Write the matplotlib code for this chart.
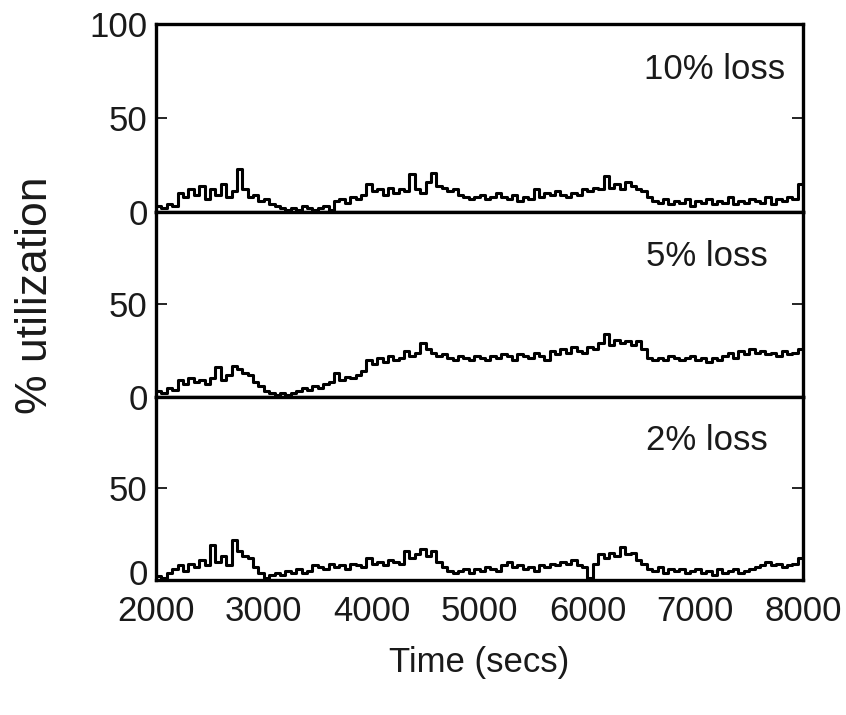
import numpy as np
import matplotlib
matplotlib.use("Agg")
import matplotlib.pyplot as plt
import matplotlib.transforms as mtransforms

plt.rcParams['font.family'] = ['Liberation Sans', 'DejaVu Sans']

# sample times (secs), one reading every 50 s
time = np.arange(2000, 8001, 50)

# % utilization
loss10 = [3, 2, 4, 3, 10, 8, 12, 9, 14, 7,
          12, 9, 15, 8, 11, 23, 12, 8, 9, 6,
          7, 4, 3, 2, 1, 2, 1, 3, 2, 1,
          2, 3, 1, 6, 7, 5, 8, 7, 9, 15,
          11, 12, 9, 13, 10, 12, 11, 20, 12, 10,
          16, 21, 14, 13, 11, 12, 9, 8, 7, 8,
          9, 7, 8, 10, 8, 7, 9, 6, 8, 7,
          12, 8, 10, 9, 11, 9, 8, 10, 9, 12,
          11, 13, 12, 19, 13, 15, 12, 16, 14, 12,
          11, 8, 6, 5, 7, 4, 6, 5, 7, 3,
          6, 5, 7, 4, 6, 5, 8, 4, 6, 5,
          7, 6, 5, 8, 4, 7, 6, 8, 7, 15,
          9]
loss5 = [3, 2, 5, 4, 9, 7, 10, 8, 9, 7,
         10, 16, 9, 12, 17, 15, 13, 12, 8, 6,
         3, 2, 1, 2, 1, 2, 3, 5, 4, 6,
         5, 7, 8, 13, 9, 11, 10, 12, 14, 20,
         18, 21, 19, 22, 20, 21, 25, 22, 24, 29,
         26, 24, 22, 23, 21, 20, 22, 21, 20, 22,
         21, 20, 22, 21, 23, 22, 20, 23, 22, 21,
         24, 22, 20, 25, 23, 26, 24, 27, 25, 24,
         27, 26, 29, 34, 28, 31, 29, 30, 28, 30,
         26, 21, 20, 21, 20, 22, 21, 20, 21, 22,
         20, 21, 19, 21, 20, 22, 24, 21, 25, 23,
         26, 24, 25, 23, 24, 22, 25, 23, 24, 26,
         25]
loss2 = [2, 1, 4, 6, 8, 5, 9, 7, 11, 8,
         19, 10, 13, 8, 22, 16, 13, 12, 7, 4,
         1, 3, 4, 3, 5, 4, 6, 4, 5, 8,
         7, 6, 9, 7, 8, 6, 9, 8, 7, 12,
         9, 10, 8, 11, 10, 9, 16, 12, 14, 17,
         13, 16, 10, 7, 5, 4, 5, 6, 4, 6,
         5, 7, 6, 5, 8, 10, 7, 8, 6, 7,
         5, 8, 7, 9, 8, 10, 9, 11, 8, 7,
         1, 9, 14, 12, 15, 13, 18, 14, 15, 11,
         9, 6, 5, 7, 4, 6, 5, 6, 4, 5,
         6, 4, 5, 3, 6, 4, 5, 6, 4, 5,
         6, 7, 8, 10, 8, 9, 7, 8, 9, 12,
         10]

series = [loss10, loss5, loss2]
labels = ["10% loss", "5% loss", "2% loss"]
label_x = [7835, 7670, 7670]

fig = plt.figure(figsize=(8.46, 7.15), dpi=100)
ink = "#1a1a1a"
left, width = 0.1844, 0.765
bottoms = [0.7035, 0.4448, 0.1888]
heights = [0.2629, 0.2587, 0.2560]

axes = []
for i, (vals, lab, lx) in enumerate(zip(series, labels, label_x)):
    ax = fig.add_axes([left, bottoms[i], width, heights[i]])
    ax.plot(time, vals, color="black", lw=2.2, drawstyle="steps-post")
    ax.set_xlim(2000, 8000)
    ax.set_ylim(0, 100)
    if i == 0:
        ax.set_yticks([0, 50, 100])
    else:
        ax.set_yticks([0, 50])
    ax.tick_params(axis="y", direction="in", length=8, width=1.2,
                   right=True, labelsize=25, labelcolor=ink, pad=6)
    for s in ax.spines.values():
        s.set_linewidth(2.4)
    ax.text(lx, 76, lab, ha="right", va="center", fontsize=25, color=ink)
    if i < 2:
        ax.tick_params(axis="x", bottom=False, labelbottom=False)
    else:
        ax.set_xticks([2000, 3000, 4000, 5000, 6000, 7000, 8000])
        ax.tick_params(axis="x", length=0, labelsize=25, labelcolor=ink, pad=11)
        ax.set_xlabel("Time (secs)", fontsize=25, color=ink, labelpad=13)
    axes.append(ax)

# lift the bottom "0" a touch so it clears the "2000" below it
zero_lab = axes[2].get_yticklabels()[0]
zero_lab.set_transform(zero_lab.get_transform() +
                       mtransforms.ScaledTranslation(0, 6 / 72, fig.dpi_scale_trans))

fig.text(0.042, 0.587, "% utilization", rotation=90, ha="center", va="center",
         fontsize=32, color=ink)

fig.savefig("out.png", dpi=100)
